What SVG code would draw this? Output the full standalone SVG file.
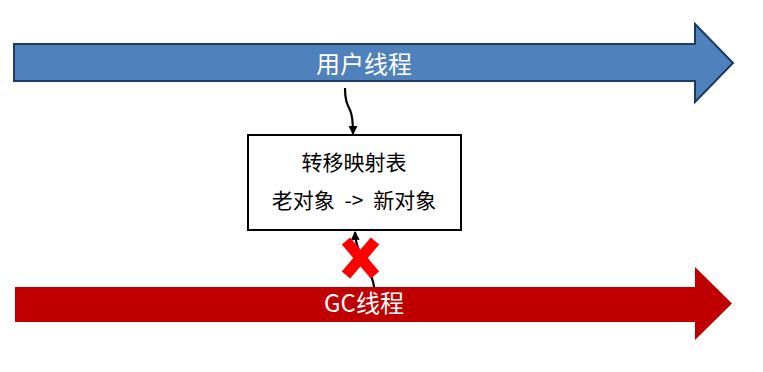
<svg xmlns="http://www.w3.org/2000/svg" width="763" height="372" viewBox="0 0 763 372">
  <style>
    .lbl { font-family: "Noto Sans CJK SC", "Noto Sans", sans-serif; text-anchor: middle; }
    .band { font-size: 24px; fill: #ffffff; }
    .tbl { font-size: 21px; fill: #000000; }
    .conn { fill: none; stroke: #000000; stroke-width: 2.2; }
  </style>
  <defs>
    <marker id="head" viewBox="0 0 10 10" refX="9" refY="5" markerWidth="4" markerHeight="4" orient="auto" markerUnits="strokeWidth">
      <path d="M0,0 L10,5 L0,10 Z" fill="#000000"/>
    </marker>
  </defs>

  <!-- user thread band -->
  <g id="user-thread">
    <polygon points="14,44 695,44 695,24 733,63 695,102 695,81 14,81" fill="#4F81BD" stroke="#1F3A5F" stroke-width="2" stroke-linejoin="miter"/>
    <text class="lbl band" x="364" y="73">用户线程</text>
  </g>

  <!-- GC thread band -->
  <g id="gc-thread">
    <polygon points="15,287 695,287 695,267 732,303.5 695,340 695,322 15,322" fill="#C00000"/>
    <text class="lbl band" x="364" y="312">GC线程</text>
  </g>

  <!-- forwarding table -->
  <g id="forwarding-table">
    <rect x="248" y="135" width="213" height="95" fill="#ffffff" stroke="#000000" stroke-width="2"/>
    <text class="lbl tbl" x="354" y="170">转移映射表</text>
    <text class="lbl tbl" x="354" y="208" word-spacing="5">老对象 -&gt; 新对象</text>
  </g>

  <!-- connectors -->
  <g id="connectors">
    <path class="conn" d="M345,88 C345,100 347,104 350,110 C353,116 353,124 353,134" marker-end="url(#head)"/>
    <path class="conn" d="M374,287 C373,270 356,258 355,232" marker-end="url(#head)"/>
  </g>

  <!-- blocked access mark -->
  <g id="blocked">
    <line x1="346" y1="241" x2="375" y2="275" stroke="#FF0000" stroke-width="11" stroke-linecap="butt"/>
    <line x1="375" y1="241" x2="346" y2="275" stroke="#FF0000" stroke-width="11" stroke-linecap="butt"/>
  </g>
</svg>
